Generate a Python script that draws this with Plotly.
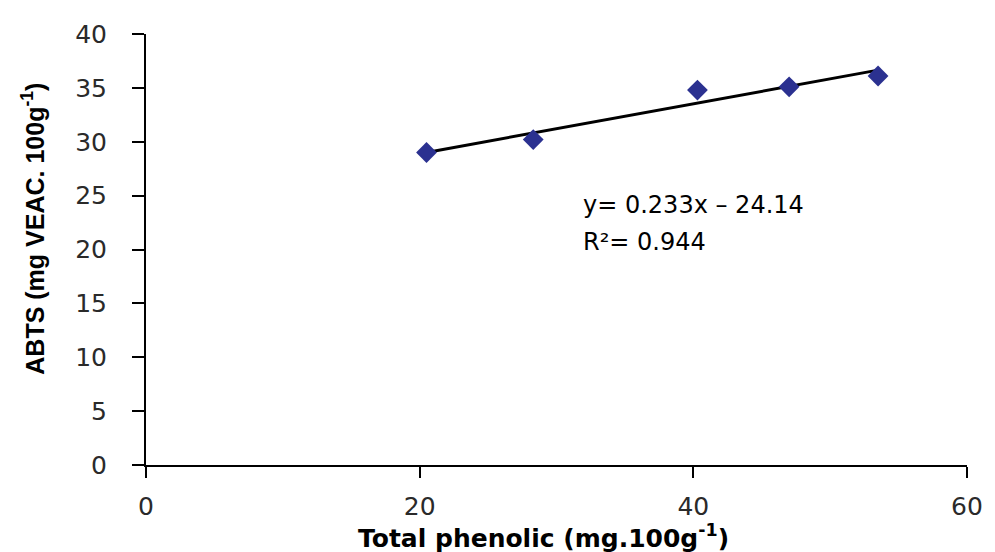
import numpy as np
import plotly.graph_objects as go

total_phenolic = [20.5, 28.3, 40.3, 47.0, 53.5]
abts = [29.0, 30.2, 34.8, 35.1, 36.1]
x_ticks = [0, 20, 40, 60]
y_ticks = [0, 5, 10, 15, 20, 25, 30, 35, 40]
equation_text = "y= 0.233x – 24.14"
r2_text = "R²= 0.944"

slope, intercept = np.polyfit(total_phenolic, abts, 1)
fit_x = [min(total_phenolic), max(total_phenolic)]
fit_y = [slope * v + intercept for v in fit_x]

fig = go.Figure()
fig.add_trace(go.Scatter(x=fit_x, y=fit_y, mode="lines",
                         line=dict(color="black", width=3), showlegend=False))
fig.add_trace(go.Scatter(x=total_phenolic, y=abts, mode="markers",
                         marker=dict(symbol="diamond", size=16, color="#2b3190"),
                         showlegend=False))

tickfont = dict(family="DejaVu Sans, Arial, sans-serif", size=25, color="#2a2a2a")
fig.update_xaxes(range=[0, 60], tickvals=x_ticks, showline=True, linecolor="black",
                 linewidth=2, ticks="outside", ticklen=11, tickwidth=2, tickcolor="black",
                 showgrid=False, zeroline=False, tickfont=tickfont, ticklabelstandoff=7)
fig.update_yaxes(range=[0, 40], tickvals=y_ticks, showline=True, linecolor="black",
                 linewidth=2, ticks="outside", ticklen=12, tickwidth=2, tickcolor="black",
                 showgrid=False, zeroline=False, tickfont=tickfont, ticklabelstandoff=20)

fig.add_annotation(x=31.8, y=24.1, xref="x", yref="y", text=equation_text, showarrow=False,
                   xanchor="left", yanchor="middle",
                   font=dict(family="DejaVu Sans, Arial, sans-serif", size=24, color="black"))
fig.add_annotation(x=31.8, y=20.7, xref="x", yref="y", text=r2_text, showarrow=False,
                   xanchor="left", yanchor="middle",
                   font=dict(family="DejaVu Sans, Arial, sans-serif", size=24, color="black"))
fig.add_annotation(x=(545 - 146) / 824, y=-(537 - 465) / 437, xref="paper", yref="paper",
                   text="<b>Total phenolic (mg.100g<sup>-1</sup>)</b>",
                   showarrow=False, xanchor="center", yanchor="middle",
                   font=dict(family="DejaVu Sans, Arial, sans-serif", size=25, color="black"))
fig.add_annotation(x=-(146 - 33) / 824, y=(465 - 225) / 437, xref="paper", yref="paper",
                   text="<b>ABTS (mg VEAC. 100g<sup>-1</sup>)</b>", textangle=-90,
                   showarrow=False, xanchor="center", yanchor="middle",
                   font=dict(family="Liberation Sans, Arial, sans-serif", size=25, color="black"))

# page body adds an 8px offset; compensate so the plot area lands at the reference position
fig.update_layout(width=987, height=544, plot_bgcolor="white", paper_bgcolor="white",
                  margin=dict(l=138, r=25, t=20, b=87), showlegend=False)
fig.write_html("out.html")
